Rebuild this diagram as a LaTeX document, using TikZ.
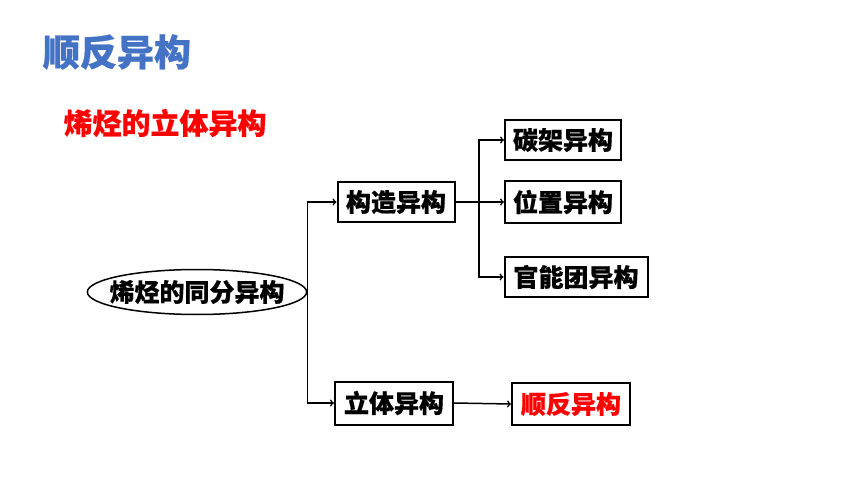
\documentclass[tikz,border=0pt]{standalone}
\usepackage{fontspec}
\setmainfont{Noto Sans CJK SC}[BoldFeatures={FakeBold=0.6}]
\usepackage{tikz}
\usetikzlibrary{shapes.geometric}
\definecolor{titleblue}{RGB}{68,114,196}
\tikzstyle{node_box} = [rectangle, draw, line width=2pt, inner sep=0pt, font=\fontsize{25}{28}\selectfont\bfseries]
\tikzstyle{node_root} = [ellipse, draw, line width=1.5pt, inner xsep=-10pt, inner ysep=-6pt, minimum width=215pt, minimum height=45pt, font=\fontsize{25}{28}\selectfont\bfseries]
\tikzstyle{edge_arrow} = [->, line width=1.5pt]

\begin{document}
\begin{tikzpicture}[x=1pt,y=-1pt]
			\useasboundingbox (0,0) rectangle (860,484);
			\node (T) at (117,52) [text=titleblue, font=\fontsize{37}{40}\selectfont\bfseries] {顺反异构};
			\node (S) at (165,123) [text=red, font=\fontsize{29}{32}\selectfont\bfseries] {烯烃的立体异构};
			\node (R) at (197,292) [node_root] {烯烃的同分异构};
			\node (GZ) at (396,202) [node_box, minimum width=117pt, minimum height=40pt] {构造异构};
			\node (LT) at (394,403) [node_box, minimum width=118pt, minimum height=43pt] {立体异构};
			\node (TJ) at (563,140) [node_box, minimum width=116pt, minimum height=40pt] {碳架异构};
			\node (WZ) at (563,202) [node_box, minimum width=116pt, minimum height=41pt] {位置异构};
			\node (GN) at (576,277) [node_box, minimum width=143pt, minimum height=40pt] {官能团异构};
			\node (SF) at (571,404) [node_box, minimum width=118pt, minimum height=42pt, text=red] {顺反异构};
			\coordinate (B) at (479,202);
			\draw[edge_arrow] (R.east) |- (GZ.west);
			\draw[edge_arrow] (R.east) |- (LT.west);
			\draw[edge_arrow] (GZ.east) -- (WZ.west);
			\draw[edge_arrow] (B) |- (TJ.west);
			\draw[edge_arrow] (B) |- (GN.west);
			\draw[edge_arrow] (LT.east) -- (SF.west);
		\end{tikzpicture}
\end{document}
